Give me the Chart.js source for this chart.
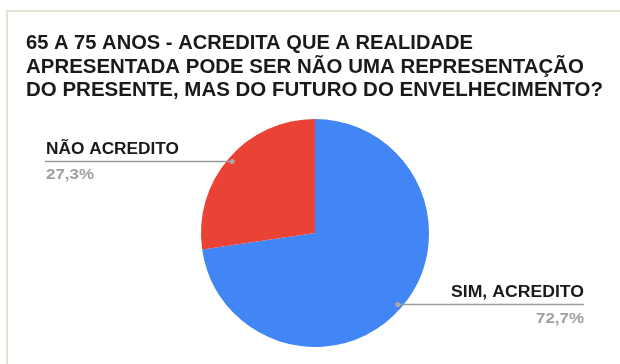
<!DOCTYPE html>
<html>
<head>
<meta charset="utf-8">
<script src="https://cdn.jsdelivr.net/npm/chart.js@4.4.1/dist/chart.umd.min.js"></script>
<style>
  html, body { margin: 0; padding: 0; background: #fff; }
  #wrap { position: relative; width: 620px; height: 364px; }
</style>
</head>
<body>
<div id="wrap"><canvas id="pie" width="620" height="364"></canvas></div>
<script>
// respostas da faixa 65 a 75 anos
const titleLines = [
  "65 A 75 ANOS - ACREDITA QUE A REALIDADE",
  "APRESENTADA PODE SER NÃO UMA REPRESENTAÇÃO",
  "DO PRESENTE, MAS DO FUTURO DO ENVELHECIMENTO?"
];
const categories = ["SIM, ACREDITO", "NÃO ACREDITO"];
const values = [72.7, 27.3];
const percentLabels = ["72,7%", "27,3%"];
const sliceColors = ["#4285f4", "#ea4335"];

const FONT = "'Liberation Sans', Arial, sans-serif";

// escreve o texto esticado na horizontal ate a largura pedida
function fitText(ctx, text, x, y, width, align) {
  const w = ctx.measureText(text).width;
  const sx = width / w;
  ctx.save();
  ctx.textAlign = "left";
  const left = align === "right" ? x - width : x;
  ctx.translate(left, y);
  ctx.scale(sx, 1);
  ctx.fillText(text, 0, 0);
  ctx.restore();
}

const titleWidths = [447, 558, 577];

// moldura, titulo e rotulos com linha de chamada
const decorPlugin = {
  id: "decor",
  beforeDraw(chart) {
    const ctx = chart.ctx;
    ctx.save();
    ctx.fillStyle = "#fff";
    ctx.fillRect(0, 0, chart.width, chart.height);
    ctx.strokeStyle = "#e4e0d0";
    ctx.lineWidth = 2;
    ctx.beginPath();
    ctx.moveTo(7, chart.height);
    ctx.lineTo(7, 11);
    ctx.lineTo(chart.width, 11);
    ctx.stroke();

    ctx.fillStyle = "#1a1a1a";
    ctx.font = "bold 19.5px " + FONT;
    ctx.textBaseline = "alphabetic";
    titleLines.forEach((t, i) => {
      fitText(ctx, t, 26, 49 + i * 23.5, titleWidths[i], "left");
    });
    ctx.restore();
  },
  afterDraw(chart) {
    const ctx = chart.ctx;
    const arcs = chart.getDatasetMeta(0).data;
    ctx.save();
    arcs.forEach((arc, i) => {
      const p = arc.getProps(["x", "y", "startAngle", "endAngle", "outerRadius"], true);
      const mid = (p.startAngle + p.endAngle) / 2;
      const r = p.outerRadius * 0.96;
      const dx = p.x + Math.cos(mid) * r;
      const dy = p.y + Math.sin(mid) * r;
      const right = Math.cos(mid) > 0;
      const x0 = right ? dx : 45;
      const x1 = right ? 584 : dx;

      ctx.strokeStyle = "#9a9a9a";
      ctx.lineWidth = 1.5;
      ctx.beginPath();
      ctx.moveTo(x0, dy);
      ctx.lineTo(x1, dy);
      ctx.stroke();

      ctx.fillStyle = "#b0a8a0";
      ctx.beginPath();
      ctx.arc(dx, dy, 2.5, 0, Math.PI * 2);
      ctx.fill();

      const align = right ? "right" : "left";
      const tx = right ? 584 : 46;
      ctx.fillStyle = "#1a1a1a";
      ctx.font = "bold 16px " + FONT;
      fitText(ctx, categories[i], tx, dy - 7.5, 133, align);
      ctx.fillStyle = "#a0a0a0";
      ctx.font = "bold 14px " + FONT;
      fitText(ctx, percentLabels[i], tx, dy + 18, 48, align);
    });
    ctx.restore();
  }
};

new Chart(document.getElementById("pie"), {
  type: "pie",
  data: {
    labels: categories,
    datasets: [{
      data: values,
      backgroundColor: sliceColors,
      borderWidth: 0
    }]
  },
  options: {
    responsive: false,
    animation: false,
    layout: { padding: { top: 119, bottom: 17, left: 201, right: 191 } },
    plugins: {
      legend: { display: false },
      tooltip: { enabled: false },
      title: { display: false }
    }
  },
  plugins: [decorPlugin]
});
</script>
</body>
</html>
